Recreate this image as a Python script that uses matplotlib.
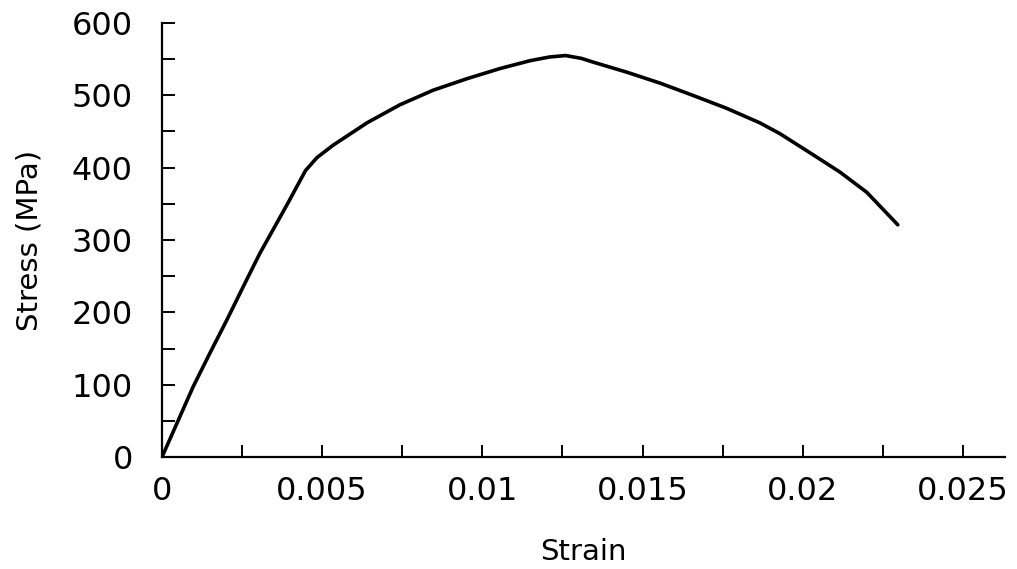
import matplotlib
matplotlib.use("Agg")
import matplotlib.pyplot as plt
from matplotlib.ticker import MultipleLocator, FixedLocator, FixedFormatter

strain = [0.0, 0.00047, 0.00097, 0.0015, 0.00203, 0.00253, 0.00306, 0.00359, 0.00393,
          0.00448, 0.00484, 0.00534, 0.0064, 0.00743, 0.00846, 0.00952, 0.01055, 0.0115,
          0.0121, 0.0126, 0.0131, 0.01345, 0.01451, 0.01554, 0.01657, 0.01763, 0.01866, 0.01929,
          0.02032, 0.02116, 0.022, 0.02297]
stress = [0, 47, 97, 144, 190, 235, 282, 324, 351,
          396, 414, 431, 462, 487, 507, 523, 537, 548,
          553, 555, 551, 546, 532, 517, 500, 482, 462, 447,
          418, 394, 366, 321]

x_ticks = [0, 0.005, 0.01, 0.015, 0.02, 0.025]
x_tick_labels = ["0", "0.005", "0.01", "0.015", "0.02", "0.025"]
y_ticks = [0, 100, 200, 300, 400, 500, 600]

plt.rcParams['font.family'] = ['DejaVu Sans']

fig = plt.figure(figsize=(10.17, 5.69), dpi=100)
ax = fig.add_axes([0.1593, 0.1968, 0.988 - 0.1593, 0.9596 - 0.1968])

ax.plot(strain, stress, color="black", lw=2.6, solid_capstyle="round",
        solid_joinstyle="round")

ax.set_xlim(0, 0.02631)
ax.set_ylim(0, 600)

ax.spines['top'].set_visible(False)
ax.spines['right'].set_visible(False)
for s in ('left', 'bottom'):
    ax.spines[s].set_linewidth(1.6)

ax.xaxis.set_major_locator(FixedLocator(x_ticks))
ax.xaxis.set_major_formatter(FixedFormatter(x_tick_labels))
ax.xaxis.set_minor_locator(MultipleLocator(0.0025))
ax.yaxis.set_major_locator(FixedLocator(y_ticks))
ax.yaxis.set_minor_locator(MultipleLocator(50))

ax.tick_params(axis='x', which='both', direction='in', length=9, width=1.4)
ax.tick_params(axis='y', which='both', direction='in', length=9, width=1.4)
ax.tick_params(axis='x', which='major', labelsize=23, pad=14)
ax.tick_params(axis='y', which='major', labelsize=23, pad=21)

ax.set_xlabel("Strain", fontsize=21, labelpad=22)
ax.set_ylabel("Stress (MPa)", fontsize=21, labelpad=20)

fig.savefig("out.png", dpi=100)
